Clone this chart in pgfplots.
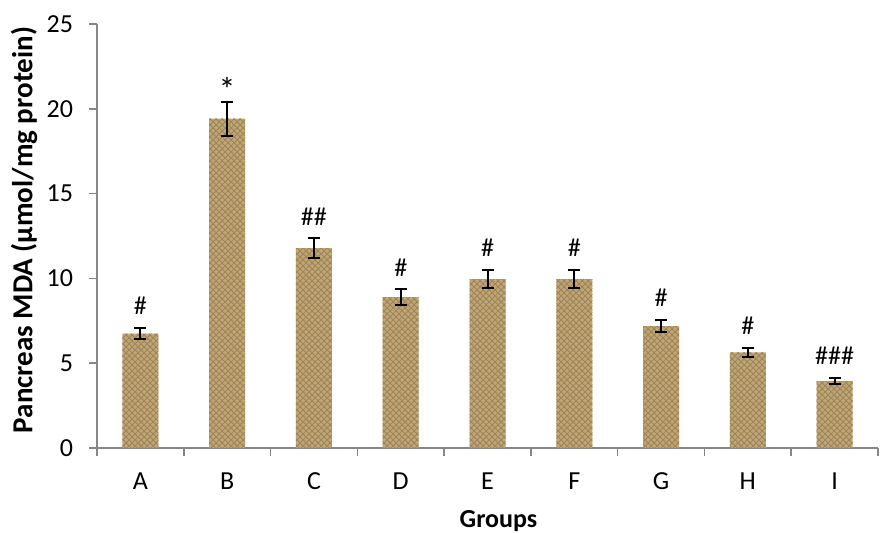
\documentclass[border=0pt]{standalone}
\usepackage{pgfplots}
\pgfplotsset{compat=1.18}
\usepackage{fontspec}
\setmainfont{Carlito}
\usetikzlibrary{patterns}
\definecolor{axgray}{RGB}{134,134,134}
\definecolor{tan1}{RGB}{196,166,106}
\definecolor{brn}{RGB}{110,80,35}
\begin{document}
\begin{tikzpicture}
\begin{axis}[
  scale only axis, width=390.5pt, height=212pt,
  xmin=-0.5, xmax=8.5, ymin=0, ymax=25,
  axis x line*=bottom, axis y line*=left,
  axis line style={axgray, line width=0.8pt},
  xtick={0,...,8}, xticklabels={A,B,C,D,E,F,G,H,I},
  major x tick style={draw=none},
  minor xtick={-0.5,0.5,...,8.5},
  minor x tick style={axgray, line width=0.8pt},
  ytick={0,5,...,25},
  y tick style={axgray, line width=0.8pt},
  tick align=outside, major tick length=4pt, minor tick length=4pt,
  /pgf/number format/assume math mode=true,
  tick label style={font=\fontsize{13}{15}\selectfont, black},
  xticklabel style={yshift=-5pt},
  yticklabel style={xshift=-4.5pt},
  xlabel={\textbf{Groups}},
  ylabel={\textbf{Pancreas MDA (µmol/mg protein)}},
  xlabel style={font=\fontsize{13}{15}\selectfont, at={([xshift=5.5pt,yshift=-36.5pt]rel axis cs:0.5,0)}, anchor=center},
  ylabel style={font=\fontsize{14.5}{16}\selectfont, at={([xshift=-36.5pt,yshift=3pt]rel axis cs:0,0.5)}, anchor=center},
  clip=false,
]
\addplot[ybar, bar width=18pt, draw=none, fill=tan1,
  postaction={pattern=crosshatch, pattern color=brn!70},
  error bars/.cd, y dir=both, y explicit,
  error bar style={black, line width=1pt},
  error mark options={black, rotate=90, mark size=3pt, line width=1pt}]
coordinates {
 (0,6.75) +- (0,0.33)
 (1,19.42) +- (0,1.0)
 (2,11.78) +- (0,0.58)
 (3,8.9) +- (0,0.45)
 (4,9.96) +- (0,0.55)
 (5,9.96) +- (0,0.55)
 (6,7.19) +- (0,0.37)
 (7,5.64) +- (0,0.28)
 (8,3.95) +- (0,0.2)
};
\begin{scope}[every node/.style={anchor=base, inner sep=0pt, yshift=6.5pt, font=\fontsize{13}{15}\selectfont}]
\node at (axis cs:0,7.08) {\#};
\node[yshift=-6.5pt, font=\fontsize{17}{18}\selectfont] at (axis cs:1,20.42) {*};
\node at (axis cs:2,12.36) {\#\#};
\node at (axis cs:3,9.35) {\#};
\node at (axis cs:4,10.51) {\#};
\node at (axis cs:5,10.51) {\#};
\node at (axis cs:6,7.56) {\#};
\node at (axis cs:7,5.92) {\#};
\node at (axis cs:8,4.15) {\#\#\#};
\end{scope}
\coordinate (bbsw) at ([xshift=-48.5pt,yshift=-42.5pt]rel axis cs:0,0);
\coordinate (bbne) at ([xshift=7.5pt,yshift=12pt]rel axis cs:1,1);
\end{axis}
\pgfresetboundingbox
\path[use as bounding box] (bbsw) rectangle (bbne);
\end{tikzpicture}
\end{document}
